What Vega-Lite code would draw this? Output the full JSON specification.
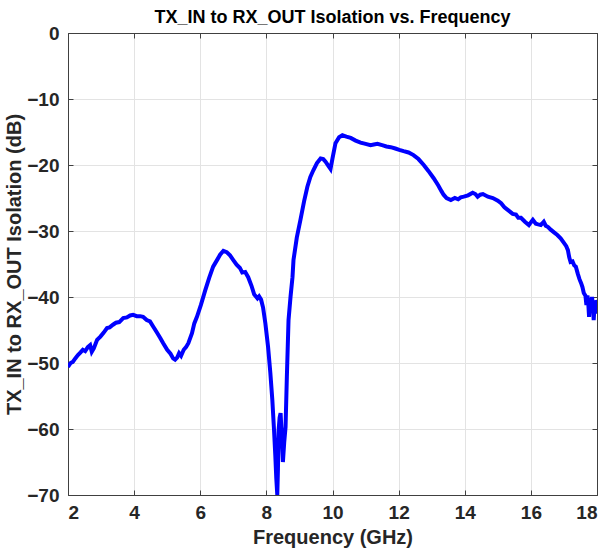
{
  "$schema": "https://vega.github.io/schema/vega-lite/v6.json",
  "width": 529,
  "height": 462,
  "autosize": {"type": "none"},
  "padding": {"left": 68, "top": 33, "right": 12, "bottom": 64},
  "background": "white",
  "title": {"text": "TX_IN to RX_OUT Isolation vs. Frequency", "font": "Liberation Sans", "fontSize": 18, "fontWeight": "bold", "color": "#000000", "offset": -3},
  "config": {
    "view": {"stroke": "#404040", "strokeWidth": 1},
    "axis": {"labelFont": "Liberation Sans", "labelFontSize": 19, "labelFontWeight": "bold", "labelColor": "#262626", "titleFont": "Liberation Sans", "titleFontSize": 20, "titleFontWeight": "bold", "titleColor": "#262626", "domainColor": "#404040", "tickColor": "#404040", "tickSize": -5, "gridColor": "#e3e3e3", "gridWidth": 1}
  },
  "data": {"values": [
    {"f": 2.0, "db": -50.6}, {"f": 2.08, "db": -50.0}, {"f": 2.15, "db": -49.8}, {"f": 2.22, "db": -49.3}, {"f": 2.3, "db": -48.8}, {"f": 2.38, "db": -48.4}, {"f": 2.45, "db": -48.0}, {"f": 2.52, "db": -48.2}, {"f": 2.6, "db": -47.6}, {"f": 2.67, "db": -47.3}, {"f": 2.72, "db": -48.3}, {"f": 2.78, "db": -47.8}, {"f": 2.88, "db": -46.5}, {"f": 2.98, "db": -46.0}, {"f": 3.08, "db": -45.4}, {"f": 3.18, "db": -44.7}, {"f": 3.26, "db": -44.6}, {"f": 3.36, "db": -44.2}, {"f": 3.45, "db": -43.9}, {"f": 3.55, "db": -43.8}, {"f": 3.67, "db": -43.2}, {"f": 3.78, "db": -43.1}, {"f": 3.88, "db": -42.8}, {"f": 3.97, "db": -42.7}, {"f": 4.08, "db": -42.9}, {"f": 4.18, "db": -42.9}, {"f": 4.27, "db": -43.0}, {"f": 4.38, "db": -43.5}, {"f": 4.48, "db": -43.7}, {"f": 4.58, "db": -44.5}, {"f": 4.68, "db": -45.3}, {"f": 4.79, "db": -46.2}, {"f": 4.88, "db": -47.0}, {"f": 5.0, "db": -48.0}, {"f": 5.1, "db": -48.6}, {"f": 5.18, "db": -49.3}, {"f": 5.24, "db": -49.5}, {"f": 5.3, "db": -49.2}, {"f": 5.36, "db": -48.5}, {"f": 5.42, "db": -48.9}, {"f": 5.5, "db": -48.0}, {"f": 5.57, "db": -47.6}, {"f": 5.64, "db": -47.0}, {"f": 5.75, "db": -45.5}, {"f": 5.82, "db": -44.0}, {"f": 5.9, "db": -43.0}, {"f": 6.02, "db": -41.2}, {"f": 6.15, "db": -39.0}, {"f": 6.27, "db": -37.1}, {"f": 6.39, "db": -35.4}, {"f": 6.52, "db": -34.3}, {"f": 6.6, "db": -33.6}, {"f": 6.7, "db": -33.0}, {"f": 6.8, "db": -33.2}, {"f": 6.9, "db": -33.7}, {"f": 7.0, "db": -34.4}, {"f": 7.1, "db": -35.1}, {"f": 7.2, "db": -35.6}, {"f": 7.27, "db": -36.3}, {"f": 7.36, "db": -36.2}, {"f": 7.45, "db": -37.0}, {"f": 7.55, "db": -38.3}, {"f": 7.63, "db": -39.6}, {"f": 7.73, "db": -40.2}, {"f": 7.78, "db": -39.9}, {"f": 7.84, "db": -40.4}, {"f": 7.9, "db": -41.6}, {"f": 7.97, "db": -44.0}, {"f": 8.05, "db": -47.5}, {"f": 8.12, "db": -51.5}, {"f": 8.18, "db": -55.6}, {"f": 8.23, "db": -60.0}, {"f": 8.27, "db": -64.0}, {"f": 8.3, "db": -67.5}, {"f": 8.33, "db": -70.0}, {"f": 8.35, "db": -66.0}, {"f": 8.37, "db": -60.2}, {"f": 8.4, "db": -58.3}, {"f": 8.43, "db": -57.6}, {"f": 8.47, "db": -61.5}, {"f": 8.5, "db": -65.0}, {"f": 8.54, "db": -62.0}, {"f": 8.58, "db": -59.7}, {"f": 8.62, "db": -52.0}, {"f": 8.67, "db": -43.5}, {"f": 8.73, "db": -40.0}, {"f": 8.79, "db": -37.0}, {"f": 8.82, "db": -34.4}, {"f": 8.92, "db": -31.0}, {"f": 9.03, "db": -28.3}, {"f": 9.14, "db": -25.5}, {"f": 9.24, "db": -23.3}, {"f": 9.33, "db": -21.8}, {"f": 9.42, "db": -20.8}, {"f": 9.53, "db": -19.7}, {"f": 9.64, "db": -19.0}, {"f": 9.72, "db": -19.1}, {"f": 9.79, "db": -19.5}, {"f": 9.87, "db": -20.1}, {"f": 9.94, "db": -20.6}, {"f": 10.0, "db": -19.0}, {"f": 10.09, "db": -16.7}, {"f": 10.2, "db": -15.8}, {"f": 10.3, "db": -15.5}, {"f": 10.42, "db": -15.7}, {"f": 10.55, "db": -15.9}, {"f": 10.7, "db": -16.3}, {"f": 10.85, "db": -16.6}, {"f": 11.0, "db": -16.8}, {"f": 11.15, "db": -17.0}, {"f": 11.25, "db": -16.9}, {"f": 11.36, "db": -16.8}, {"f": 11.5, "db": -17.0}, {"f": 11.63, "db": -17.2}, {"f": 11.76, "db": -17.3}, {"f": 11.9, "db": -17.5}, {"f": 12.02, "db": -17.7}, {"f": 12.15, "db": -17.9}, {"f": 12.3, "db": -18.1}, {"f": 12.45, "db": -18.5}, {"f": 12.6, "db": -19.1}, {"f": 12.76, "db": -20.0}, {"f": 12.9, "db": -20.9}, {"f": 13.06, "db": -22.0}, {"f": 13.2, "db": -23.1}, {"f": 13.3, "db": -24.0}, {"f": 13.36, "db": -24.5}, {"f": 13.45, "db": -25.0}, {"f": 13.58, "db": -25.3}, {"f": 13.7, "db": -25.0}, {"f": 13.8, "db": -25.2}, {"f": 13.88, "db": -24.9}, {"f": 13.97, "db": -24.8}, {"f": 14.1, "db": -24.6}, {"f": 14.24, "db": -24.2}, {"f": 14.32, "db": -24.4}, {"f": 14.39, "db": -24.8}, {"f": 14.47, "db": -24.5}, {"f": 14.55, "db": -24.4}, {"f": 14.7, "db": -24.8}, {"f": 14.85, "db": -25.0}, {"f": 15.0, "db": -25.4}, {"f": 15.1, "db": -25.8}, {"f": 15.2, "db": -26.4}, {"f": 15.3, "db": -26.8}, {"f": 15.45, "db": -27.4}, {"f": 15.55, "db": -27.5}, {"f": 15.62, "db": -28.0}, {"f": 15.7, "db": -28.0}, {"f": 15.82, "db": -28.6}, {"f": 15.94, "db": -29.1}, {"f": 16.0, "db": -28.7}, {"f": 16.06, "db": -28.3}, {"f": 16.15, "db": -28.9}, {"f": 16.22, "db": -29.0}, {"f": 16.3, "db": -29.1}, {"f": 16.39, "db": -28.6}, {"f": 16.45, "db": -29.2}, {"f": 16.52, "db": -29.4}, {"f": 16.6, "db": -29.8}, {"f": 16.7, "db": -30.2}, {"f": 16.8, "db": -30.6}, {"f": 16.9, "db": -31.1}, {"f": 17.0, "db": -31.8}, {"f": 17.07, "db": -32.3}, {"f": 17.12, "db": -32.9}, {"f": 17.16, "db": -34.0}, {"f": 17.2, "db": -34.7}, {"f": 17.26, "db": -34.6}, {"f": 17.31, "db": -35.2}, {"f": 17.36, "db": -35.4}, {"f": 17.42, "db": -36.5}, {"f": 17.47, "db": -37.3}, {"f": 17.52, "db": -37.9}, {"f": 17.56, "db": -38.5}, {"f": 17.6, "db": -39.4}, {"f": 17.65, "db": -39.8}, {"f": 17.68, "db": -41.2}, {"f": 17.71, "db": -39.8}, {"f": 17.73, "db": -40.4}, {"f": 17.76, "db": -43.0}, {"f": 17.79, "db": -40.6}, {"f": 17.82, "db": -42.0}, {"f": 17.85, "db": -40.0}, {"f": 17.88, "db": -41.5}, {"f": 17.9, "db": -43.5}, {"f": 17.93, "db": -41.0}, {"f": 17.95, "db": -42.5}, {"f": 17.98, "db": -40.5}, {"f": 18.0, "db": -40.8}
  ]},
  "layer": [
    {
      "mark": {"type": "line", "opacity": 0},
      "encoding": {
        "x": {"field": "f", "type": "quantitative", "scale": {"domain": [2, 18], "nice": false, "zero": false}, "axis": {"orient": "top", "labels": false, "title": null, "grid": false, "values": [2, 4, 6, 8, 10, 12, 14, 16, 18]}},
        "y": {"field": "db", "type": "quantitative", "scale": {"domain": [-70, 0], "nice": false, "zero": false}, "axis": {"orient": "right", "labels": false, "title": null, "grid": false, "values": [-70, -60, -50, -40, -30, -20, -10, 0]}}
      }
    },
    {
      "mark": {"type": "line", "color": "#0000ff", "strokeWidth": 4, "clip": true},
      "encoding": {
        "x": {"field": "f", "type": "quantitative", "scale": {"domain": [2, 18], "nice": false, "zero": false}, "axis": {"orient": "bottom", "grid": true, "title": "Frequency (GHz)", "values": [2, 4, 6, 8, 10, 12, 14, 16, 18], "labelPadding": 13, "titlePadding": 5}},
        "y": {"field": "db", "type": "quantitative", "scale": {"domain": [-70, 0], "nice": false, "zero": false}, "axis": {"orient": "left", "grid": true, "title": "TX_IN to RX_OUT Isolation (dB)", "values": [-70, -60, -50, -40, -30, -20, -10, 0], "labelPadding": 14, "titlePadding": 2}}
      }
    }
  ],
  "resolve": {"axis": {"x": "independent", "y": "independent"}}
}
